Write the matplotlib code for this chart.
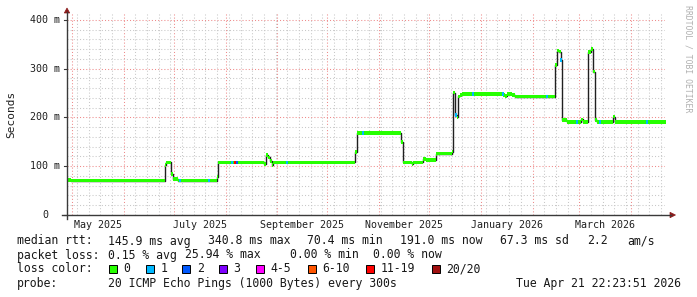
import matplotlib
matplotlib.use('Agg')
import numpy as np
import matplotlib.pyplot as plt
import matplotlib.dates as mdates
import matplotlib.transforms as mtransforms
from matplotlib.patches import Rectangle, Polygon
from matplotlib.lines import Line2D

# ---------------- data ----------------
base_date = np.datetime64('2025-05-01T00:00')
# median rtt step series: day offsets from base_date, values in ms
rtt_days = [-3.0, -0.5, 55.7, 56.6, 59.3, 60.3, 63.5, 86.7, 87.7, 115.2, 116.3,
            117.6, 118.7, 119.7, 120.6, 169.6, 170.6, 197.2, 198.5, 203.7, 204.6,
            210.5, 212.0, 218.0, 218.9, 227.5, 228.5, 229.5, 230.9, 231.5, 232.5,
            233.5, 258.5, 259.5, 261.0, 263.7, 265.5, 289.4, 290.5, 291.8, 292.9,
            293.5, 296.5, 305.0, 306.0, 309.4, 310.8, 312.4, 313.4, 314.4, 324.4,
            325.4, 355.8]
rtt_ms = [71.8, 70.4, 102, 108, 84, 74, 70.4, 78, 108, 104, 123,
          118, 111, 102.6, 108, 129, 167.5, 149, 108, 104, 108,
          115, 113, 125, 126, 130, 251, 205, 200, 243, 246,
          248, 246, 244, 248, 246, 242.7, 307.7, 337, 335, 318,
          195, 190.5, 196, 190.5, 333.7, 340.8, 294, 195, 191, 201.7,
          190.5, 191.0]
# packet-loss events: day offsets and loss-colour bin index
loss_days = [64.7, 82.1, 95.9, 97.4, 98.6, 128.8, 174.2, 230.1, 240.3, 258.3,
             284.6, 292.9, 302.6, 316.4, 344.4]
loss_bins = [1, 1, 1, 6, 2, 1, 1, 1, 1, 1, 1, 1, 1, 1, 1]

loss_colors = ['#26ff00', '#00b8ff', '#0059ff', '#7e00ff', '#ff00ff',
               '#ff5500', '#ff0000', '#a01010']
loss_labels = ['0', '1', '2', '3', '4-5', '6-10', '11-19', '20/20']

y_ticks = [0, 100, 200, 300, 400]
y_tick_labels = ['0  ', '100 m', '200 m', '300 m', '400 m']
x_label_months = ['2025-05', '2025-07', '2025-09', '2025-11', '2026-01', '2026-03']
x_label_texts = ['May 2025', 'July 2025', 'September 2025', 'November 2025',
                 'January 2026', 'March 2026']

rtt_stats = ['145.9 ms avg', '340.8 ms max', '70.4 ms min', '191.0 ms now',
             '67.3 ms sd', '2.2', 'am/s']
loss_stats = ['0.15 % avg', '25.94 % max', '0.00 % min', '0.00 % now']
probe_text = '20 ICMP Echo Pings (1000 Bytes) every 300s'
stamp_text = 'Tue Apr 21 22:23:51 2026'

# ---------------- figure ----------------
W, H = 697, 297
MONO = 'DejaVu Sans Mono'
plt.rcParams['font.family'] = MONO
fig = plt.figure(figsize=(W / 100, H / 100), dpi=100)
fig.patch.set_facecolor('white')
L, R, T, B = 67, 665, 13, 215
ax = fig.add_axes([L / W, 1 - B / H, (R - L) / W, (B - T) / H])
ax.set_facecolor('white')


def to_num(days):
    d = np.asarray(days, dtype=float)
    dt = base_date + (d * 86400).astype('int64').astype('timedelta64[s]')
    return mdates.date2num(dt)


x_left = to_num([-3.0])[0]
x_right = to_num([355.4])[0]
ax.set_xlim(x_left, x_right)
ax.set_ylim(0, 414)

# grid
ax.xaxis.set_major_locator(mdates.MonthLocator())
ax.xaxis.set_minor_locator(mdates.WeekdayLocator(byweekday=mdates.SU))
ax.yaxis.set_major_locator(matplotlib.ticker.FixedLocator(y_ticks))
ax.yaxis.set_minor_locator(matplotlib.ticker.MultipleLocator(20))
ax.grid(which='minor', color='#c8c8c8', linestyle=(0, (1, 2)), linewidth=0.75, zorder=0)
ax.grid(which='major', color='#ee8a8a', linestyle=(0, (1, 2)), linewidth=0.75, zorder=0.5)
ax.set_axisbelow(True)
ax.tick_params(which='both', length=0, labelbottom=False, labelleft=False)
for s in ax.spines.values():
    s.set_visible(False)

# data
xs = to_num(rtt_days)
vals = np.array(rtt_ms, dtype=float)
ax.step(xs, vals, where='post', color='#202020', linewidth=1.0, zorder=3)
half = 1.8 / ((B - T) / 414)  # band half thickness in ms (~1.8 px)
ax.fill_between(xs, vals - half, vals + half, step='post',
                color=loss_colors[0], linewidth=0, zorder=4)
for d, b in zip(loss_days, loss_bins):
    idx = np.searchsorted(rtt_days, d, side='right') - 1
    v = vals[idx]
    seg = to_num([d - 0.6, d + 0.6])
    ax.fill_between(seg, [v - half] * 2, [v + half] * 2,
                    color=loss_colors[b], linewidth=0, zorder=5)

# y tick labels
ylab_tr = mtransforms.blended_transform_factory(ax.transAxes, ax.transData) + \
    mtransforms.ScaledTranslation(-7 / 100, 0, fig.dpi_scale_trans)
for v, lab in zip(y_ticks, y_tick_labels):
    txt = lab.rstrip()
    shift = (len(lab) - len(txt)) * 6.0 / 100
    ax.text(0, v, txt, transform=ylab_tr + mtransforms.ScaledTranslation(-shift, 0, fig.dpi_scale_trans),
            ha='right', va='center', fontsize=7.2, color='#202020', family=MONO)

# x labels centred in month
xlab_tr = mtransforms.blended_transform_factory(ax.transData, ax.transAxes) + \
    mtransforms.ScaledTranslation(0, -9.5 / 100, fig.dpi_scale_trans)
for m, lab in zip(x_label_months, x_label_texts):
    m0 = np.datetime64(m + '-01T00:00')
    m1 = (np.datetime64(m, 'M') + 1).astype('datetime64[m]')
    mid = m0 + (m1 - m0) / 2
    ax.text(mdates.date2num(mid), 0, lab, transform=xlab_tr, ha='center', va='center',
            fontsize=7.2, color='#202020', family=MONO)

# axis lines & arrows (pixel decoration)
def P(x, y):
    return (x / W, 1 - y / H)

axis_col = '#3a3a3a'
arrow_col = '#8b1a1a'
fig.add_artist(Line2D([P(67, 219)[0], P(67, 12)[0]], [P(67, 219)[1], P(67, 12)[1]],
                      color=axis_col, linewidth=1.0, transform=fig.transFigure))
fig.add_artist(Line2D([P(62, 215)[0], P(671, 215)[0]], [P(62, 215)[1], P(671, 215)[1]],
                      color=axis_col, linewidth=1.0, transform=fig.transFigure))
fig.add_artist(Polygon([P(64.3, 13), P(69.7, 13), P(67, 8)], closed=True,
                       facecolor=arrow_col, edgecolor=arrow_col, linewidth=0.5,
                       transform=fig.transFigure))
fig.add_artist(Polygon([P(670, 212.3), P(670, 217.7), P(675.5, 215)], closed=True,
                       facecolor=arrow_col, edgecolor=arrow_col, linewidth=0.5,
                       transform=fig.transFigure))
# small y tick marks
for v in y_ticks:
    yy = B - v * (B - T) / 414
    fig.add_artist(Line2D([P(64, yy)[0], P(67, yy)[0]], [P(64, yy)[1], P(67, yy)[1]],
                          color=axis_col, linewidth=0.8, transform=fig.transFigure))

# y axis title and watermark
fig.text(*P(11, 114), 'Seconds', rotation=90, ha='center', va='center',
         fontsize=8.0, color='#202020', family=MONO)
fig.text(*P(688, 59), 'RRDTOOL / TOBI OETIKER', rotation=270, ha='center', va='center',
         fontsize=5.9, color='#b0b0b0', family=MONO)

# legend / statistics
FS = 8.3
TC = '#181818'
def T_(x, y, s, ha='left'):
    fig.text(*P(x, y), s, ha=ha, va='center', fontsize=FS, color=TC, family=MONO)

T_(17, 241, 'median rtt:')
for x, s in zip([107.7, 207.7, 306.7, 400, 500, 586.7, 627.3], rtt_stats):
    T_(x, 241, s)
T_(17, 255, 'packet loss:')
for x, s in zip([107.7, 185, 290, 373.3], loss_stats):
    T_(x, 255, s)
T_(17, 269, 'loss color:')
box_x = [109, 146, 182.3, 219, 255.7, 307.7, 366, 432]
for bx, c, lab in zip(box_x, loss_colors, loss_labels):
    x0, y0 = P(bx, 273)
    fig.add_artist(Rectangle((x0, y0), 8 / W, 8 / H, facecolor=c, edgecolor='#000000',
                             linewidth=0.7, transform=fig.transFigure))
    T_(bx + 14.5, 269, lab)
T_(17, 284, 'probe:')
T_(107.7, 284, probe_text)
T_(681, 284, stamp_text, ha='right')

fig.savefig('out.png', dpi=100, facecolor='white')
